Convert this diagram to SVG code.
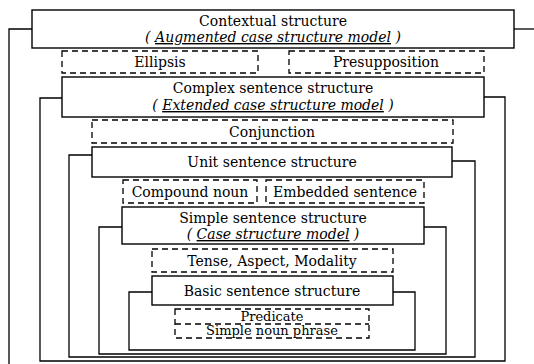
<svg xmlns="http://www.w3.org/2000/svg" width="534" height="364" viewBox="0 0 534 364">
<style>
.box{fill:#fff;stroke:#000;stroke-width:1.4}
.dash{fill:#fff;stroke:#000;stroke-width:1.3;stroke-dasharray:6 4}
.ln{fill:none;stroke:#000;stroke-width:1.3}
text{font-family:"DejaVu Serif","Liberation Serif",serif;font-size:14px;text-anchor:middle;fill:#000}
.it{font-style:italic}
.sm{font-size:13px}
</style>
<rect width="534" height="364" fill="#fff"/>
<g id="connectors">
<polyline class="ln" points="32,29 9,29 9,364"/>
<polyline class="ln" points="514,29 534,29"/>
<polyline class="ln" points="62,98 40,98 40,361 505,361 505,97 484,97"/>
<polyline class="ln" points="92,155 69,155 69,357 475,357 475,161 452,161"/>
<polyline class="ln" points="122,227 99,227 99,354 446,354 446,227 424,227"/>
<polyline class="ln" points="152,292 129,292 129,350 415,350 415,292 393,292"/>
</g>
<g id="contextual">
<rect class="box" x="32" y="10" width="482" height="38"/>
<text x="273" y="26">Contextual structure</text>
<text x="273" y="42" class="it">( <tspan text-decoration="underline">Augmented case structure model</tspan> )</text>
</g>
<g id="ellipsis">
<rect class="dash" x="62" y="51" width="196" height="22"/>
<text x="160" y="67">Ellipsis</text>
</g>
<g id="presupposition">
<rect class="dash" x="289" y="51" width="195" height="22"/>
<text x="386" y="67">Presupposition</text>
</g>
<g id="complex">
<rect class="box" x="62" y="77" width="422" height="40"/>
<text x="273" y="93">Complex  sentence structure</text>
<text x="273" y="110" class="it">( <tspan text-decoration="underline">Extended case structure model</tspan> )</text>
</g>
<g id="conjunction">
<rect class="dash" x="92" y="120" width="361" height="23"/>
<text x="272" y="137">Conjunction</text>
</g>
<g id="unit">
<rect class="box" x="92" y="147" width="360" height="30"/>
<text x="272" y="167">Unit sentence structure</text>
</g>
<g id="compound">
<rect class="dash" x="123" y="180" width="134" height="23"/>
<text x="190" y="197">Compound noun</text>
</g>
<g id="embedded">
<rect class="dash" x="266" y="180" width="158" height="23"/>
<text x="345" y="197">Embedded sentence</text>
</g>
<g id="simple">
<rect class="box" x="122" y="207" width="302" height="37"/>
<text x="273" y="223">Simple sentence structure</text>
<text x="273" y="239" class="it">( <tspan text-decoration="underline">Case structure model</tspan> )</text>
</g>
<g id="tense">
<rect class="dash" x="152" y="249" width="241" height="23"/>
<text x="272" y="266">Tense, Aspect, Modality</text>
</g>
<g id="basic">
<rect class="box" x="152" y="276" width="241" height="29"/>
<text x="272" y="296">Basic sentence structure</text>
</g>
<g id="predicate">
<rect class="dash" x="175" y="309" width="194" height="29"/>
<line class="ln" x1="175" y1="324" x2="369" y2="324" stroke-dasharray="6 4"/>
<text x="272" y="321" class="sm">Predicate</text>
<text x="272" y="335" class="sm">Simple noun phrase</text>
</g>
</svg>
